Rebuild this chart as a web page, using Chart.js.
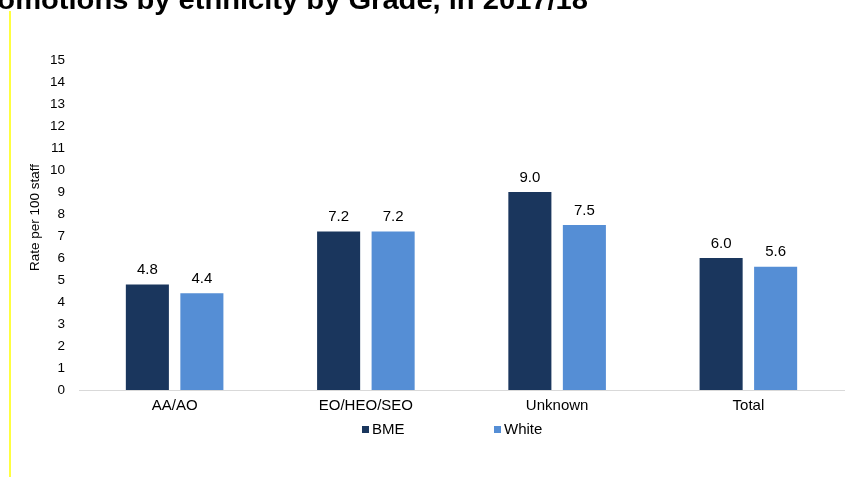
<!DOCTYPE html>
<html>
<head>
<meta charset="utf-8">
<script src="https://cdn.jsdelivr.net/npm/chart.js@4/dist/chart.umd.min.js"></script>
<style>
  html, body { margin: 0; padding: 0; background: #ffffff; }
  #wrap { width: 854px; height: 477px; position: relative; }
</style>
</head>
<body>
<div id="wrap"><canvas id="c" width="854" height="477"></canvas></div>
<script>
const categories = ['AA/AO', 'EO/HEO/SEO', 'Unknown', 'Total'];
const seriesNames = ['BME', 'White'];
const bmeValues = [4.8, 7.2, 9.0, 6.0];
const whiteValues = [4.4, 7.2, 7.5, 5.6];
const yMin = 0, yMax = 15, yStep = 1;
const titleText = 'Promotions by ethnicity by Grade, in 2017/18';
const yTitle = 'Rate per 100 staff';

const FONT = "'Liberation Sans', Arial, sans-serif";
const TEXT = '#000000';

const decor = {
  id: 'decor',
  beforeDraw(chart) {
    const ctx = chart.ctx;
    ctx.save();
    ctx.fillStyle = '#ffffff';
    ctx.fillRect(0, 0, chart.width, chart.height);
    ctx.restore();
  },
  afterDraw(chart) {
    const ctx = chart.ctx;
    ctx.save();
    // yellow vertical rule
    ctx.strokeStyle = '#ffff00';
    ctx.lineWidth = 1.5;
    ctx.beginPath();
    ctx.moveTo(10, 11);
    ctx.lineTo(10, 477);
    ctx.stroke();
    // clipped title (starts off-canvas in the reference)
    ctx.fillStyle = TEXT;
    ctx.font = 'bold 28px ' + FONT;
    ctx.textAlign = 'right';
    ctx.textBaseline = 'alphabetic';
    const sx = 1.04;
    ctx.setTransform(sx, 0, 0, 1, 0, 0);
    ctx.fillText(titleText, 588 / sx, 9);
    ctx.restore();
  }
};

const valueLabels = {
  id: 'valueLabels',
  afterDatasetsDraw(chart) {
    const ctx = chart.ctx;
    ctx.save();
    ctx.fillStyle = TEXT;
    ctx.font = '15px ' + FONT;
    ctx.textAlign = 'center';
    ctx.textBaseline = 'middle';
    chart.data.datasets.forEach((ds, di) => {
      const meta = chart.getDatasetMeta(di);
      meta.data.forEach((bar, i) => {
        ctx.fillText(ds.data[i].toFixed(1), bar.x, bar.y - 14.5);
      });
    });
    ctx.restore();
  }
};

const customLegend = {
  id: 'customLegend',
  afterDraw(chart) {
    const ctx = chart.ctx;
    ctx.save();
    ctx.font = '15px ' + FONT;
    ctx.textBaseline = 'middle';
    ctx.textAlign = 'left';
    const startX = [362, 494];
    const cy = 429.5;
    chart.data.datasets.forEach((ds, i) => {
      const x = startX[i];
      ctx.fillStyle = ds.backgroundColor;
      ctx.fillRect(x, cy - 3.5, 7, 7);
      ctx.fillStyle = TEXT;
      ctx.fillText(ds.label, x + 10, cy);
    });
    ctx.restore();
  }
};

new Chart(document.getElementById('c'), {
  type: 'bar',
  data: {
    labels: categories,
    datasets: [
      { label: seriesNames[0], data: bmeValues, backgroundColor: '#1A365D',
        categoryPercentage: 0.57, barPercentage: 0.79 },
      { label: seriesNames[1], data: whiteValues, backgroundColor: '#558ED5',
        categoryPercentage: 0.57, barPercentage: 0.79 }
    ]
  },
  options: {
    responsive: false,
    animation: false,
    devicePixelRatio: 1,
    layout: { padding: { left: 27, right: 10, top: 60, bottom: 57 } },
    plugins: {
      legend: { display: false },
      tooltip: { enabled: false },
      title: { display: false }
    },
    scales: {
      x: {
        grid: { display: false, drawTicks: false },
        border: { display: true, color: '#d9d9d9', width: 1 },
        ticks: { color: TEXT, font: { family: FONT, size: 15 }, padding: 7, maxRotation: 0 },
        afterFit(scale) { scale.height = 30; }
      },
      y: {
        min: yMin, max: yMax,
        grid: { display: false, drawTicks: false },
        border: { display: false },
        ticks: { stepSize: yStep, color: TEXT, font: { family: FONT, size: 13.5 }, padding: 14 },
        title: { display: true, text: '    ' + yTitle, color: TEXT, font: { family: FONT, size: 13.5 }, padding: 0 },
        afterFit(scale) { scale.width = 52; }
      }
    }
  },
  plugins: [decor, valueLabels, customLegend]
});
</script>
</body>
</html>
